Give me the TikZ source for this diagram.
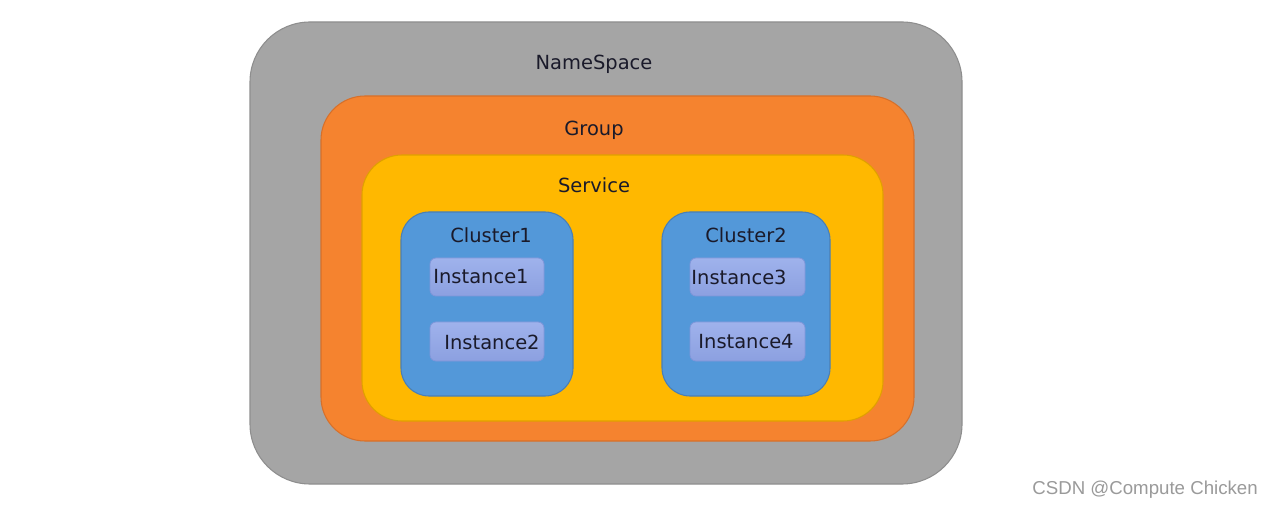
\documentclass[tikz,border=0pt]{standalone}
\usepackage{fontspec}
\setmainfont{DejaVu Sans}
\newfontfamily\wmfont{Liberation Sans}
\definecolor{nsgray}{HTML}{A5A5A5}
\definecolor{nsedge}{HTML}{8E8E8E}
\definecolor{grporange}{HTML}{F5832F}
\definecolor{grpedge}{HTML}{D7702A}
\definecolor{svcyellow}{HTML}{FFB800}
\definecolor{svcedge}{HTML}{E0A000}
\definecolor{clblue}{HTML}{5398D9}
\definecolor{cledge}{HTML}{4A7FB5}
\definecolor{insttop}{HTML}{9FB2EC}
\definecolor{instbot}{HTML}{8CA0E0}
\definecolor{instedge}{HTML}{7F96DA}
\definecolor{txt}{HTML}{1A1A2A}
\definecolor{wmgray}{HTML}{9A9A9A}
\tikzset{
  box/.style={rectangle, inner sep=0pt, outer sep=0pt, line width=0.8pt},
  nsbox/.style={box, fill=nsgray, draw=nsedge, rounded corners=45pt},
  grpbox/.style={box, fill=grporange, draw=grpedge, rounded corners=33pt},
  svcbox/.style={box, fill=svcyellow, draw=svcedge, rounded corners=30pt},
  clbox/.style={box, fill=clblue, draw=cledge, rounded corners=21pt},
  instbox/.style={box, top color=insttop, bottom color=instbot, draw=instedge, line width=0.6pt, rounded corners=4.5pt},
  lbl/.style={inner sep=0pt, text=txt, font=\fontsize{14.6}{17}\selectfont},
  wm/.style={inner sep=0pt, text=wmgray, font=\wmfont\fontsize{14}{16}\selectfont}
}
\begin{document}
\begin{tikzpicture}[x=0.75pt, y=-0.75pt]
\useasboundingbox[fill=white] (0,0) rectangle (1273,509);
\node[nsbox, minimum width=534pt, minimum height=346.5pt] (ns) at (606,253) {};
\node[grpbox, minimum width=444.75pt, minimum height=258.75pt] (grp) at (617.5,268.5) {};
\node[svcbox, minimum width=390.75pt, minimum height=199.5pt] (svc) at (622.5,288) {};
\node[clbox, minimum width=129pt, minimum height=138pt] (cl1) at (487,304) {};
\node[clbox, minimum width=126pt, minimum height=138pt] (cl2) at (746,304) {};
\node[instbox, minimum width=85.5pt, minimum height=28.5pt] (i1) at (487,277) {};
\node[instbox, minimum width=85.5pt, minimum height=29.25pt] (i2) at (487,341.5) {};
\node[instbox, minimum width=86.25pt, minimum height=28.5pt] (i3) at (747.5,277) {};
\node[instbox, minimum width=86.25pt, minimum height=29.25pt] (i4) at (747.5,341.5) {};
\node[lbl] (tns) at (594,64) {NameSpace};
\node[lbl] (tgrp) at (594,130) {Group};
\node[lbl] (tsvc) at (594,185) {Service};
\node[lbl] (tcl1) at (491,235) {Cluster1};
\node[lbl] (tcl2) at (746,235) {Cluster2};
\node[lbl] (ti1) at (481,277) {Instance1};
\node[lbl] (ti2) at (492,342) {Instance2};
\node[lbl] (ti3) at (739,277) {Instance3};
\node[lbl] (ti4) at (746,342) {Instance4};
\node[wm, anchor=east] (wmk) at (1258,490) {CSDN @Compute Chicken};
\end{tikzpicture}
\end{document}
